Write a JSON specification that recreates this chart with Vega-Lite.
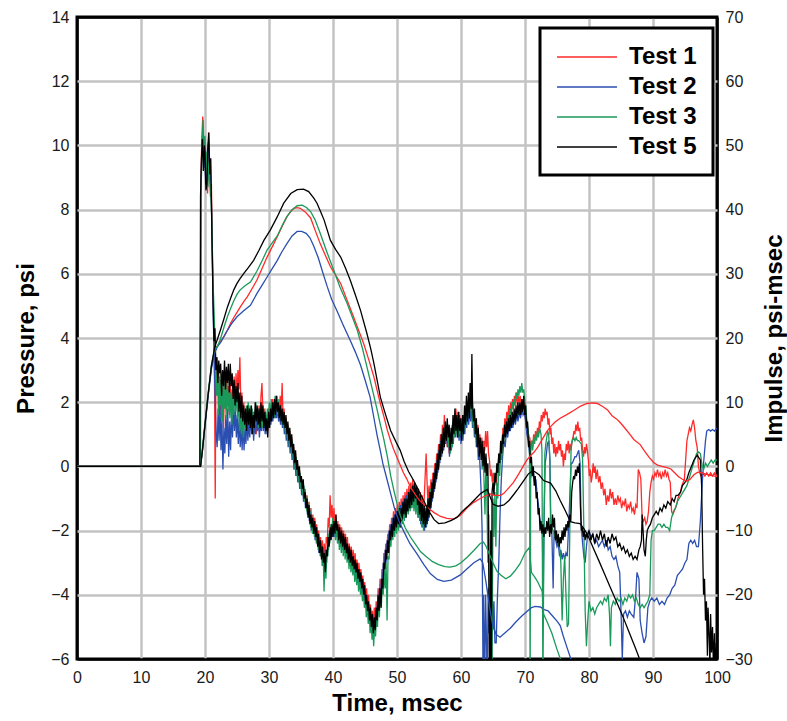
{
  "$schema": "https://vega.github.io/schema/vega-lite/v6.json",
  "width": 640,
  "height": 642,
  "autosize": {"type": "none"},
  "padding": {"left": 77, "top": 17, "right": 70, "bottom": 62},
  "background": "white",
  "config": {
    "font": "Liberation Sans",
    "view": {"stroke": "black", "strokeWidth": 3},
    "axis": {
      "labelFont": "Liberation Sans",
      "labelFontSize": 16,
      "labelColor": "#1a1a1a",
      "titleFont": "Liberation Sans",
      "titleFontSize": 24,
      "titleFontWeight": "bold",
      "titleColor": "black",
      "ticks": false,
      "tickSize": 0,
      "domain": false,
      "gridColor": "#c3c3c3",
      "gridWidth": 2.5,
      "labelPadding": 8,
      "labelFlush": false
    }
  },
  "datasets": {
    "p1": [{"t":0,"p":0},{"t":19.25,"p":0},{"t":19.35,"p":8.8},{"t":19.5,"p":10.2},{"t":19.65,"p":10.9},{"t":19.8,"p":9.5},{"t":19.95,"p":10.1},{"t":20.1,"p":9},{"t":20.25,"p":9.6},{"t":20.4,"p":8.5},{"t":20.55,"p":10.4},{"t":20.7,"p":9.4},{"t":20.85,"p":8.4},{"t":21,"p":8.8},{"t":21.15,"p":6.8},{"t":21.3,"p":5},{"t":21.45,"p":3.8},{"t":21.6,"p":-1},{"t":21.7,"p":2.8},{"t":21.85,"p":3.4},{"t":22,"p":2.2},{"t":22.15,"p":3},{"t":22.3,"p":1.6},{"t":22.45,"p":2.7},{"t":22.6,"p":1.5},{"t":22.75,"p":2.4},{"t":22.9,"p":1.2},{"t":23.05,"p":2.6},{"t":23.2,"p":1.8},{"t":23.35,"p":2.9},{"t":23.5,"p":1.9},{"t":23.65,"p":2.5},{"t":23.8,"p":1.6},{"t":23.95,"p":2.6},{"t":24.1,"p":1.8},{"t":24.25,"p":2.4},{"t":24.4,"p":1.7},{"t":24.55,"p":2.8},{"t":24.7,"p":2},{"t":24.85,"p":2.9},{"t":25,"p":2.2},{"t":25.15,"p":3},{"t":25.3,"p":2.4},{"t":25.45,"p":3.4},{"t":25.6,"p":1.9},{"t":25.75,"p":2.3},{"t":25.9,"p":1.4},{"t":26.05,"p":2},{"t":26.2,"p":1.3},{"t":26.35,"p":1.7},{"t":26.5,"p":1},{"t":26.65,"p":1.6},{"t":26.8,"p":1.1},{"t":26.95,"p":1.7},{"t":27.1,"p":1.2},{"t":27.25,"p":1.8},{"t":27.4,"p":1.1},{"t":27.55,"p":1.7},{"t":27.7,"p":1.3},{"t":27.85,"p":1.6},{"t":28,"p":1},{"t":28.15,"p":1.7},{"t":28.3,"p":1.2},{"t":28.45,"p":1.9},{"t":28.6,"p":1.4},{"t":28.75,"p":2.2},{"t":28.9,"p":2.6},{"t":29.05,"p":1.7},{"t":29.2,"p":1.4},{"t":29.35,"p":1.8},{"t":29.5,"p":1.2},{"t":29.65,"p":1.6},{"t":29.8,"p":1.1},{"t":29.95,"p":1.8},{"t":30.1,"p":1.3},{"t":30.25,"p":1.9},{"t":30.4,"p":1.5},{"t":30.55,"p":2.1},{"t":30.7,"p":1.6},{"t":30.85,"p":2},{"t":31,"p":1.5},{"t":31.15,"p":2.1},{"t":31.3,"p":1.6},{"t":31.45,"p":1.9},{"t":31.6,"p":1.4},{"t":31.75,"p":2.2},{"t":31.9,"p":1.7},{"t":32.05,"p":2.6},{"t":32.2,"p":1.5},{"t":32.35,"p":1.8},{"t":32.5,"p":1.1},{"t":32.65,"p":1.5},{"t":32.8,"p":0.9},{"t":32.95,"p":1.3},{"t":33.1,"p":0.7},{"t":33.25,"p":1.1},{"t":33.4,"p":0.6},{"t":33.55,"p":0.9},{"t":33.7,"p":0.3},{"t":33.85,"p":0.6},{"t":34,"p":0},{"t":34.15,"p":0.4},{"t":34.3,"p":-0.3},{"t":34.45,"p":0.1},{"t":34.6,"p":-0.4},{"t":34.75,"p":-0.1},{"t":34.9,"p":-0.6},{"t":35.05,"p":-0.3},{"t":35.2,"p":-0.9},{"t":35.35,"p":-0.5},{"t":35.5,"p":-1.1},{"t":35.65,"p":-0.7},{"t":35.8,"p":-1.2},{"t":35.95,"p":-0.9},{"t":36.1,"p":-1.5},{"t":36.25,"p":-1.1},{"t":36.4,"p":-1.7},{"t":36.55,"p":-1.3},{"t":36.7,"p":-1.9},{"t":36.85,"p":-1.5},{"t":37,"p":-2},{"t":37.15,"p":-1.6},{"t":37.3,"p":-2.3},{"t":37.45,"p":-1.8},{"t":37.6,"p":-2.4},{"t":37.75,"p":-2},{"t":37.9,"p":-2.6},{"t":38.05,"p":-2.2},{"t":38.2,"p":-2.8},{"t":38.35,"p":-2.3},{"t":38.5,"p":-2.9},{"t":38.65,"p":-2.4},{"t":38.8,"p":-3},{"t":38.95,"p":-2.2},{"t":39.1,"p":-2.4},{"t":39.25,"p":-1.6},{"t":39.4,"p":-1.9},{"t":39.55,"p":-0.9},{"t":39.7,"p":-1.6},{"t":39.85,"p":-1.2},{"t":40,"p":-1.8},{"t":40.15,"p":-1.3},{"t":40.3,"p":-1.9},{"t":40.45,"p":-1.5},{"t":40.6,"p":-2.1},{"t":40.75,"p":-1.7},{"t":40.9,"p":-2.2},{"t":41.05,"p":-1.8},{"t":41.2,"p":-2.3},{"t":41.35,"p":-1.9},{"t":41.5,"p":-2.4},{"t":41.65,"p":-2},{"t":41.8,"p":-2.5},{"t":41.95,"p":-2.1},{"t":42.1,"p":-2.6},{"t":42.25,"p":-2.2},{"t":42.4,"p":-2.8},{"t":42.55,"p":-2.4},{"t":42.7,"p":-2.9},{"t":42.85,"p":-2.5},{"t":43,"p":-3},{"t":43.15,"p":-2.6},{"t":43.3,"p":-3.1},{"t":43.45,"p":-2.7},{"t":43.6,"p":-3.2},{"t":43.75,"p":-2.9},{"t":43.9,"p":-3.4},{"t":44.05,"p":-3},{"t":44.2,"p":-3.5},{"t":44.35,"p":-3.2},{"t":44.5,"p":-3.7},{"t":44.65,"p":-3.4},{"t":44.8,"p":-3.9},{"t":44.95,"p":-3.6},{"t":45.1,"p":-4.1},{"t":45.25,"p":-3.8},{"t":45.4,"p":-4.4},{"t":45.55,"p":-4},{"t":45.7,"p":-4.6},{"t":45.85,"p":-4.3},{"t":46,"p":-4.9},{"t":46.15,"p":-4.5},{"t":46.3,"p":-5},{"t":46.45,"p":-4.4},{"t":46.6,"p":-4.9},{"t":46.75,"p":-4.2},{"t":46.9,"p":-4.7},{"t":47.05,"p":-3.8},{"t":47.2,"p":-4.3},{"t":47.35,"p":-3.5},{"t":47.5,"p":-4},{"t":47.65,"p":-3.2},{"t":47.8,"p":-3.5},{"t":47.95,"p":-2.7},{"t":48.1,"p":-3},{"t":48.25,"p":-2.4},{"t":48.4,"p":-2.7},{"t":48.55,"p":-2.1},{"t":48.7,"p":-2.5},{"t":48.85,"p":-1.8},{"t":49,"p":-2.2},{"t":49.15,"p":-1.6},{"t":49.3,"p":-2},{"t":49.45,"p":-1.4},{"t":49.6,"p":-1.9},{"t":49.75,"p":-1.3},{"t":49.9,"p":-1.8},{"t":50.05,"p":-1.2},{"t":50.2,"p":-1.7},{"t":50.35,"p":-1.1},{"t":50.5,"p":-1.6},{"t":50.65,"p":-1},{"t":50.8,"p":-1.5},{"t":50.95,"p":-0.9},{"t":51.1,"p":-1.4},{"t":51.25,"p":-0.8},{"t":51.4,"p":-1.3},{"t":51.55,"p":-0.7},{"t":51.7,"p":-1.2},{"t":51.85,"p":-0.6},{"t":52,"p":-1.1},{"t":52.15,"p":-0.5},{"t":52.3,"p":-1},{"t":52.45,"p":-0.4},{"t":52.6,"p":-0.9},{"t":52.75,"p":-0.5},{"t":52.9,"p":-1.1},{"t":53.05,"p":-0.6},{"t":53.2,"p":-1.2},{"t":53.35,"p":-0.7},{"t":53.5,"p":-1.3},{"t":53.65,"p":-0.8},{"t":53.8,"p":-1.4},{"t":53.95,"p":-0.9},{"t":54.1,"p":-1.5},{"t":54.25,"p":-1},{"t":54.4,"p":-0.3},{"t":54.55,"p":0.4},{"t":54.7,"p":-0.5},{"t":54.85,"p":-1.2},{"t":55,"p":-0.6},{"t":55.15,"p":-1.1},{"t":55.3,"p":-0.4},{"t":55.45,"p":-0.9},{"t":55.6,"p":-0.2},{"t":55.75,"p":-0.6},{"t":55.9,"p":0.1},{"t":56.05,"p":-0.3},{"t":56.2,"p":0.4},{"t":56.35,"p":0},{"t":56.5,"p":0.7},{"t":56.65,"p":0.3},{"t":56.8,"p":1},{"t":56.95,"p":0.5},{"t":57.1,"p":1.3},{"t":57.25,"p":0.8},{"t":57.4,"p":1.6},{"t":57.55,"p":1},{"t":57.7,"p":1.2},{"t":57.85,"p":0.6},{"t":58,"p":1.2},{"t":58.15,"p":0.4},{"t":58.3,"p":1},{"t":58.45,"p":0.6},{"t":58.6,"p":1.3},{"t":58.75,"p":0.8},{"t":58.9,"p":1.6},{"t":59.05,"p":1.1},{"t":59.2,"p":1.8},{"t":59.35,"p":1.2},{"t":59.5,"p":1.7},{"t":59.65,"p":1},{"t":59.8,"p":1.6},{"t":59.95,"p":1.1},{"t":60.1,"p":1.5},{"t":60.25,"p":0.9},{"t":60.4,"p":1.6},{"t":60.55,"p":1.2},{"t":60.7,"p":1.9},{"t":60.85,"p":1.3},{"t":61,"p":2},{"t":61.15,"p":1.5},{"t":61.3,"p":2.2},{"t":61.45,"p":2.6},{"t":61.6,"p":1.6},{"t":61.75,"p":2.1},{"t":61.9,"p":1.3},{"t":62.05,"p":1.7},{"t":62.2,"p":1},{"t":62.35,"p":1.5},{"t":62.5,"p":0.8},{"t":62.65,"p":1.3},{"t":62.8,"p":0.6},{"t":62.95,"p":1},{"t":63.1,"p":0.4},{"t":63.25,"p":0.9},{"t":63.4,"p":0.3},{"t":63.55,"p":0.8},{"t":63.7,"p":0.5},{"t":63.85,"p":1.1},{"t":64,"p":0.6},{"t":64.15,"p":1.1},{"t":64.3,"p":0.4},{"t":64.45,"p":0.2},{"t":64.6,"p":-0.3},{"t":64.75,"p":-0.1},{"t":64.9,"p":-0.5},{"t":65.05,"p":-0.2},{"t":65.2,"p":-0.6},{"t":65.35,"p":-0.3},{"t":65.5,"p":-0.6},{"t":65.65,"p":-0.2},{"t":65.8,"p":0.1},{"t":65.95,"p":0.4},{"t":66.1,"p":0.1},{"t":66.25,"p":0.7},{"t":66.4,"p":0.5},{"t":66.55,"p":1.2},{"t":66.7,"p":0.9},{"t":66.85,"p":1.5},{"t":67,"p":1.2},{"t":67.15,"p":1.7},{"t":67.3,"p":1.4},{"t":67.45,"p":1.9},{"t":67.6,"p":1.5},{"t":67.75,"p":2},{"t":67.9,"p":1.7},{"t":68.05,"p":2.1},{"t":68.2,"p":1.8},{"t":68.35,"p":2.2},{"t":68.5,"p":2},{"t":68.65,"p":2.3},{"t":68.8,"p":1.9},{"t":68.95,"p":2.2},{"t":69.1,"p":2},{"t":69.25,"p":2.2},{"t":69.4,"p":1.9},{"t":69.55,"p":2.1},{"t":69.7,"p":1.8},{"t":69.85,"p":2},{"t":70,"p":1.6},{"t":70.15,"p":1.4},{"t":70.3,"p":1},{"t":70.45,"p":1.2},{"t":70.6,"p":0.7},{"t":70.75,"p":0.9},{"t":70.9,"p":0.5},{"t":71.05,"p":0.8},{"t":71.2,"p":0.6},{"t":71.35,"p":1},{"t":71.5,"p":0.8},{"t":71.65,"p":1.1},{"t":71.8,"p":0.9},{"t":71.95,"p":1.2},{"t":72.1,"p":1},{"t":72.25,"p":1.4},{"t":72.4,"p":1.2},{"t":72.55,"p":1.6},{"t":72.7,"p":1.4},{"t":72.85,"p":1.7},{"t":73,"p":1.5},{"t":73.15,"p":1.8},{"t":73.3,"p":1.6},{"t":73.45,"p":1.7},{"t":73.6,"p":1.3},{"t":73.75,"p":1.5},{"t":73.9,"p":1},{"t":74.05,"p":1.2},{"t":74.2,"p":0.7},{"t":74.35,"p":0.9},{"t":74.5,"p":0.4},{"t":74.65,"p":0.7},{"t":74.8,"p":0.3},{"t":74.95,"p":0.6},{"t":75.1,"p":0.4},{"t":75.25,"p":0.8},{"t":75.4,"p":0.5},{"t":75.55,"p":0.7},{"t":75.7,"p":0.3},{"t":75.85,"p":0.5},{"t":76,"p":0},{"t":76.15,"p":0.4},{"t":76.3,"p":0.2},{"t":76.45,"p":0.7},{"t":76.6,"p":0.5},{"t":76.75,"p":0.8},{"t":76.9,"p":0.4},{"t":77.05,"p":0.7},{"t":77.2,"p":0.5},{"t":77.35,"p":0.8},{"t":77.5,"p":0.9},{"t":77.65,"p":1.1},{"t":77.8,"p":1},{"t":77.95,"p":1.3},{"t":78.1,"p":1.1},{"t":78.25,"p":1.4},{"t":78.4,"p":1.1},{"t":78.55,"p":1.2},{"t":78.7,"p":0.8},{"t":78.85,"p":0.9},{"t":79,"p":0.5},{"t":79.15,"p":0.3},{"t":79.3,"p":0.6},{"t":79.45,"p":0.4},{"t":79.6,"p":0.7},{"t":79.75,"p":0.5},{"t":79.9,"p":0.2},{"t":80.05,"p":-0.3},{"t":80.2,"p":-0.1},{"t":80.35,"p":-0.5},{"t":80.5,"p":-0.3},{"t":80.65,"p":0.1},{"t":80.8,"p":-0.2},{"t":80.95,"p":0},{"t":81.1,"p":-0.4},{"t":81.3,"p":-0.1},{"t":81.5,"p":-0.5},{"t":81.7,"p":-0.3},{"t":81.9,"p":-0.7},{"t":82.1,"p":-0.5},{"t":82.3,"p":-0.9},{"t":82.5,"p":-0.7},{"t":82.7,"p":-1.2},{"t":82.9,"p":-0.9},{"t":83.1,"p":-1.1},{"t":83.3,"p":-0.7},{"t":83.5,"p":-1},{"t":83.7,"p":-0.8},{"t":83.9,"p":-1.2},{"t":84.1,"p":-1},{"t":84.3,"p":-1.2},{"t":84.5,"p":-0.9},{"t":84.7,"p":-1.1},{"t":84.9,"p":-1},{"t":85.1,"p":-1.3},{"t":85.3,"p":-1.1},{"t":85.5,"p":-1.2},{"t":85.7,"p":-1},{"t":85.9,"p":-1.4},{"t":86.1,"p":-1.2},{"t":86.3,"p":-1.3},{"t":86.5,"p":-1.1},{"t":86.7,"p":-1.4},{"t":86.9,"p":-1.3},{"t":87.1,"p":-1.5},{"t":87.3,"p":-1.2},{"t":87.5,"p":-1.3},{"t":87.7,"p":-0.1},{"t":87.9,"p":-0.2},{"t":88.1,"p":-0.4},{"t":88.3,"p":-1.6},{"t":88.5,"p":-1.7},{"t":88.7,"p":-1.6},{"t":88.9,"p":-1.8},{"t":89.1,"p":-1.7},{"t":89.3,"p":-1.4},{"t":89.5,"p":-0.8},{"t":89.7,"p":-0.5},{"t":89.9,"p":-0.3},{"t":90.1,"p":-0.4},{"t":90.3,"p":-0.2},{"t":90.5,"p":-0.3},{"t":90.7,"p":-0.1},{"t":90.9,"p":-0.3},{"t":91.1,"p":-0.2},{"t":91.3,"p":-0.4},{"t":91.5,"p":-0.2},{"t":91.7,"p":-0.3},{"t":91.9,"p":-0.1},{"t":92.1,"p":-0.3},{"t":92.3,"p":-0.2},{"t":92.5,"p":-0.4},{"t":92.7,"p":-0.5},{"t":92.9,"p":-1.4},{"t":93.1,"p":-1.5},{"t":93.3,"p":-1.4},{"t":93.5,"p":-1.3},{"t":93.7,"p":-1.2},{"t":93.9,"p":-1},{"t":94.1,"p":-0.9},{"t":94.3,"p":-0.8},{"t":94.5,"p":-0.6},{"t":94.7,"p":-0.5},{"t":94.9,"p":-0.4},{"t":95.1,"p":0.2},{"t":95.3,"p":0.8},{"t":95.5,"p":1},{"t":95.7,"p":1.2},{"t":95.9,"p":1.1},{"t":96.1,"p":1.3},{"t":96.3,"p":1.45},{"t":96.5,"p":1.2},{"t":96.7,"p":0.8},{"t":96.9,"p":0.6},{"t":97.1,"p":0},{"t":97.3,"p":-0.2},{"t":97.5,"p":-0.3},{"t":97.8,"p":-0.2},{"t":98.1,"p":-0.3},{"t":98.4,"p":-0.2},{"t":98.7,"p":-0.3},{"t":99,"p":-0.2},{"t":99.3,"p":-0.3},{"t":99.6,"p":-0.2},{"t":100,"p":-0.3}],
    "p2": [{"t":0,"p":0},{"t":19.25,"p":0},{"t":19.35,"p":8.5},{"t":19.5,"p":9.8},{"t":19.65,"p":10.4},{"t":19.8,"p":9.3},{"t":19.95,"p":9.9},{"t":20.1,"p":8.8},{"t":20.25,"p":9.4},{"t":20.4,"p":9.9},{"t":20.55,"p":10.1},{"t":20.7,"p":8.9},{"t":20.85,"p":9.4},{"t":21,"p":8.2},{"t":21.15,"p":6.5},{"t":21.3,"p":4.6},{"t":21.45,"p":3.2},{"t":21.6,"p":2},{"t":21.75,"p":1},{"t":21.9,"p":0.6},{"t":22.05,"p":1.8},{"t":22.2,"p":0.8},{"t":22.35,"p":1.9},{"t":22.5,"p":0.5},{"t":22.65,"p":1.5},{"t":22.8,"p":-0.1},{"t":22.95,"p":1.2},{"t":23.1,"p":0.4},{"t":23.25,"p":1.6},{"t":23.4,"p":0.7},{"t":23.55,"p":1.8},{"t":23.7,"p":0.3},{"t":23.85,"p":1.4},{"t":24,"p":0.5},{"t":24.15,"p":1.7},{"t":24.3,"p":0.9},{"t":24.45,"p":2},{"t":24.6,"p":1.1},{"t":24.75,"p":1.8},{"t":24.9,"p":0.9},{"t":25.05,"p":1.6},{"t":25.2,"p":0.7},{"t":25.35,"p":1.5},{"t":25.5,"p":0.6},{"t":25.65,"p":1.3},{"t":25.8,"p":0.5},{"t":25.95,"p":1.4},{"t":26.1,"p":0.5},{"t":26.25,"p":1.2},{"t":26.4,"p":0.7},{"t":26.55,"p":1.5},{"t":26.7,"p":0.8},{"t":26.85,"p":1.4},{"t":27,"p":0.9},{"t":27.15,"p":1.6},{"t":27.3,"p":1},{"t":27.45,"p":1.5},{"t":27.6,"p":0.8},{"t":27.75,"p":1.4},{"t":27.9,"p":1},{"t":28.05,"p":1.6},{"t":28.2,"p":1.1},{"t":28.35,"p":1.5},{"t":28.5,"p":0.9},{"t":28.65,"p":1.4},{"t":28.8,"p":1.1},{"t":28.95,"p":1.7},{"t":29.1,"p":1.1},{"t":29.25,"p":1.5},{"t":29.4,"p":1},{"t":29.55,"p":1.4},{"t":29.7,"p":1},{"t":29.85,"p":1.6},{"t":30,"p":1.2},{"t":30.15,"p":1.7},{"t":30.3,"p":1.3},{"t":30.45,"p":1.9},{"t":30.6,"p":1.4},{"t":30.75,"p":1.9},{"t":30.9,"p":1.5},{"t":31.05,"p":2},{"t":31.2,"p":1.5},{"t":31.35,"p":1.9},{"t":31.5,"p":1.4},{"t":31.65,"p":1.8},{"t":31.8,"p":1.3},{"t":31.95,"p":1.7},{"t":32.1,"p":1.2},{"t":32.25,"p":1.6},{"t":32.4,"p":1},{"t":32.55,"p":1.4},{"t":32.7,"p":0.8},{"t":32.85,"p":1.2},{"t":33,"p":0.6},{"t":33.15,"p":1},{"t":33.3,"p":0.4},{"t":33.45,"p":0.8},{"t":33.6,"p":0.2},{"t":33.75,"p":0.5},{"t":33.9,"p":-0.1},{"t":34.05,"p":0.3},{"t":34.2,"p":-0.3},{"t":34.35,"p":0},{"t":34.5,"p":-0.5},{"t":34.65,"p":-0.2},{"t":34.8,"p":-0.7},{"t":34.95,"p":-0.4},{"t":35.1,"p":-0.9},{"t":35.25,"p":-0.6},{"t":35.4,"p":-1.1},{"t":35.55,"p":-0.8},{"t":35.7,"p":-1.3},{"t":35.85,"p":-1},{"t":36,"p":-1.5},{"t":36.15,"p":-1.2},{"t":36.3,"p":-1.7},{"t":36.45,"p":-1.4},{"t":36.6,"p":-2},{"t":36.75,"p":-1.6},{"t":36.9,"p":-2.1},{"t":37.05,"p":-1.8},{"t":37.2,"p":-2.3},{"t":37.35,"p":-1.9},{"t":37.5,"p":-2.4},{"t":37.65,"p":-2.1},{"t":37.8,"p":-2.7},{"t":37.95,"p":-2.3},{"t":38.1,"p":-2.8},{"t":38.25,"p":-2.5},{"t":38.4,"p":-3},{"t":38.55,"p":-2.6},{"t":38.7,"p":-3.2},{"t":38.85,"p":-2.8},{"t":39,"p":-3},{"t":39.15,"p":-2.5},{"t":39.3,"p":-2.6},{"t":39.45,"p":-2},{"t":39.6,"p":-2.3},{"t":39.75,"p":-1.8},{"t":39.9,"p":-2.2},{"t":40.05,"p":-1.7},{"t":40.2,"p":-2.2},{"t":40.35,"p":-1.8},{"t":40.5,"p":-2.2},{"t":40.65,"p":-1.9},{"t":40.8,"p":-2.4},{"t":40.95,"p":-2},{"t":41.1,"p":-2.5},{"t":41.25,"p":-2.1},{"t":41.4,"p":-2.6},{"t":41.55,"p":-2.2},{"t":41.7,"p":-2.7},{"t":41.85,"p":-2.3},{"t":42,"p":-2.8},{"t":42.15,"p":-2.4},{"t":42.3,"p":-2.9},{"t":42.45,"p":-2.6},{"t":42.6,"p":-3.1},{"t":42.75,"p":-2.7},{"t":42.9,"p":-3.2},{"t":43.05,"p":-2.8},{"t":43.2,"p":-3.3},{"t":43.35,"p":-3},{"t":43.5,"p":-3.5},{"t":43.65,"p":-3.1},{"t":43.8,"p":-3.6},{"t":43.95,"p":-3.3},{"t":44.1,"p":-3.8},{"t":44.25,"p":-3.4},{"t":44.4,"p":-3.9},{"t":44.55,"p":-3.6},{"t":44.7,"p":-4.1},{"t":44.85,"p":-3.8},{"t":45,"p":-4.4},{"t":45.15,"p":-4},{"t":45.3,"p":-4.6},{"t":45.45,"p":-4.2},{"t":45.6,"p":-4.9},{"t":45.75,"p":-4.5},{"t":45.9,"p":-5.1},{"t":46.05,"p":-4.7},{"t":46.2,"p":-5.2},{"t":46.35,"p":-4.8},{"t":46.5,"p":-5.2},{"t":46.65,"p":-4.6},{"t":46.8,"p":-5},{"t":46.95,"p":-4.2},{"t":47.1,"p":-4.6},{"t":47.25,"p":-3.8},{"t":47.4,"p":-4.3},{"t":47.55,"p":-3.5},{"t":47.7,"p":-3.8},{"t":47.85,"p":-3},{"t":48,"p":-3.3},{"t":48.15,"p":-2.6},{"t":48.3,"p":-3},{"t":48.45,"p":-2.3},{"t":48.6,"p":-2.7},{"t":48.75,"p":-2},{"t":48.9,"p":-2.4},{"t":49.05,"p":-1.8},{"t":49.2,"p":-2.2},{"t":49.35,"p":-1.6},{"t":49.5,"p":-2.1},{"t":49.65,"p":-1.5},{"t":49.8,"p":-2},{"t":49.95,"p":-1.4},{"t":50.1,"p":-1.9},{"t":50.25,"p":-1.3},{"t":50.4,"p":-1.8},{"t":50.55,"p":-1.2},{"t":50.7,"p":-1.7},{"t":50.85,"p":-1.1},{"t":51,"p":-1.6},{"t":51.15,"p":-1},{"t":51.3,"p":-1.5},{"t":51.45,"p":-0.9},{"t":51.6,"p":-1.4},{"t":51.75,"p":-0.8},{"t":51.9,"p":-1.3},{"t":52.05,"p":-0.8},{"t":52.2,"p":-1.3},{"t":52.35,"p":-0.7},{"t":52.5,"p":-1.2},{"t":52.65,"p":-0.7},{"t":52.8,"p":-1.3},{"t":52.95,"p":-0.8},{"t":53.1,"p":-1.4},{"t":53.25,"p":-0.9},{"t":53.4,"p":-1.6},{"t":53.55,"p":-1},{"t":53.7,"p":-1.8},{"t":53.85,"p":-1.2},{"t":54,"p":-1.9},{"t":54.15,"p":-1.3},{"t":54.3,"p":-2},{"t":54.45,"p":-1.4},{"t":54.6,"p":-1.9},{"t":54.75,"p":-1.2},{"t":54.9,"p":-1.7},{"t":55.05,"p":-1},{"t":55.2,"p":-1.4},{"t":55.35,"p":-0.7},{"t":55.5,"p":-1.1},{"t":55.65,"p":-0.4},{"t":55.8,"p":-0.8},{"t":55.95,"p":-0.1},{"t":56.1,"p":-0.5},{"t":56.25,"p":0.2},{"t":56.4,"p":-0.2},{"t":56.55,"p":0.5},{"t":56.7,"p":0.1},{"t":56.85,"p":0.8},{"t":57,"p":0.3},{"t":57.15,"p":1},{"t":57.3,"p":0.5},{"t":57.45,"p":1.2},{"t":57.6,"p":0.7},{"t":57.75,"p":1.3},{"t":57.9,"p":0.6},{"t":58.05,"p":1.1},{"t":58.2,"p":0.3},{"t":58.35,"p":0.9},{"t":58.5,"p":0.5},{"t":58.65,"p":1.2},{"t":58.8,"p":0.7},{"t":58.95,"p":1.4},{"t":59.1,"p":0.9},{"t":59.25,"p":1.5},{"t":59.4,"p":0.9},{"t":59.55,"p":1.4},{"t":59.7,"p":0.8},{"t":59.85,"p":1.3},{"t":60,"p":0.7},{"t":60.15,"p":1.3},{"t":60.3,"p":0.8},{"t":60.45,"p":1.5},{"t":60.6,"p":1},{"t":60.75,"p":1.7},{"t":60.9,"p":1.2},{"t":61.05,"p":1.8},{"t":61.2,"p":1.3},{"t":61.35,"p":1.8},{"t":61.5,"p":1.4},{"t":61.65,"p":1.9},{"t":61.8,"p":1.2},{"t":61.95,"p":1.6},{"t":62.1,"p":0.9},{"t":62.25,"p":1.3},{"t":62.4,"p":0.6},{"t":62.55,"p":1},{"t":62.7,"p":0.2},{"t":62.85,"p":0.5},{"t":63,"p":-0.1},{"t":63.15,"p":-0.8},{"t":63.3,"p":-2},{"t":63.45,"p":-7},{"t":63.55,"p":-4},{"t":63.7,"p":-7},{"t":63.85,"p":-4},{"t":64,"p":-5.6},{"t":64.1,"p":-7},{"t":64.25,"p":-3.8},{"t":64.4,"p":-5.2},{"t":64.55,"p":-3.6},{"t":64.7,"p":-7},{"t":64.85,"p":-3.6},{"t":65,"p":-5.1},{"t":65.15,"p":-4.2},{"t":65.3,"p":-5.5},{"t":65.5,"p":-5.5},{"t":65.7,"p":-4},{"t":65.9,"p":-3},{"t":66.1,"p":-1.5},{"t":66.3,"p":-0.4},{"t":66.5,"p":0.3},{"t":66.7,"p":0.8},{"t":66.9,"p":0.6},{"t":67.1,"p":1.1},{"t":67.3,"p":0.9},{"t":67.5,"p":1.3},{"t":67.7,"p":1.1},{"t":67.9,"p":1.4},{"t":68.1,"p":1.2},{"t":68.3,"p":1.5},{"t":68.5,"p":1.3},{"t":68.7,"p":1.6},{"t":68.9,"p":1.4},{"t":69.1,"p":1.7},{"t":69.3,"p":1.5},{"t":69.5,"p":1.8},{"t":69.7,"p":1.6},{"t":69.9,"p":1.7},{"t":70.1,"p":1.4},{"t":70.3,"p":1},{"t":70.5,"p":0.8},{"t":70.7,"p":0.4},{"t":70.9,"p":0},{"t":71.1,"p":-0.3},{"t":71.3,"p":-0.2},{"t":71.5,"p":-0.5},{"t":71.7,"p":-0.4},{"t":71.9,"p":-0.9},{"t":72.1,"p":-1.2},{"t":72.3,"p":-1.6},{"t":72.5,"p":-1.8},{"t":72.7,"p":-2},{"t":72.85,"p":-4},{"t":73,"p":-1.5},{"t":73.15,"p":0.1},{"t":73.3,"p":0.3},{"t":73.5,"p":0.7},{"t":73.7,"p":0.8},{"t":73.9,"p":0.2},{"t":74.05,"p":-2},{"t":74.2,"p":-2.1},{"t":74.4,"p":-3.8},{"t":74.55,"p":-2},{"t":74.8,"p":-2.3},{"t":75,"p":-2.5},{"t":75.2,"p":-2.4},{"t":75.4,"p":-2.8},{"t":75.6,"p":-2.6},{"t":75.8,"p":-2.9},{"t":76,"p":-2.7},{"t":76.2,"p":-2.9},{"t":76.4,"p":-2.7},{"t":76.6,"p":-2.8},{"t":76.9,"p":-1.5},{"t":77.2,"p":0.1},{"t":77.4,"p":0.1},{"t":77.6,"p":0.2},{"t":77.8,"p":0.3},{"t":78,"p":0.3},{"t":78.2,"p":0.4},{"t":78.4,"p":0.5},{"t":78.6,"p":0.1},{"t":78.8,"p":-1.9},{"t":79,"p":-2.4},{"t":79.2,"p":-2.8},{"t":79.4,"p":-3},{"t":79.6,"p":-2.5},{"t":79.8,"p":-2.1},{"t":80,"p":-2},{"t":80.3,"p":-2.2},{"t":80.6,"p":-2.1},{"t":80.9,"p":-2.4},{"t":81.2,"p":-2.3},{"t":81.5,"p":-2.5},{"t":81.8,"p":-2.4},{"t":82.1,"p":-2.3},{"t":82.4,"p":-2.5},{"t":82.7,"p":-2.3},{"t":83,"p":-2.6},{"t":83.3,"p":-2.5},{"t":83.6,"p":-2.8},{"t":83.9,"p":-2.9},{"t":84.2,"p":-2.8},{"t":84.5,"p":-3.1},{"t":84.8,"p":-3.3},{"t":85,"p":-4.5},{"t":85.2,"p":-6},{"t":85.4,"p":-4.6},{"t":85.7,"p":-4.5},{"t":86,"p":-4.7},{"t":86.3,"p":-4.5},{"t":86.6,"p":-4.6},{"t":87,"p":-4.7},{"t":87.3,"p":-4},{"t":87.5,"p":-3.3},{"t":87.8,"p":-3.5},{"t":88,"p":-4.8},{"t":88.3,"p":-5.2},{"t":88.6,"p":-5.5},{"t":88.9,"p":-5.3},{"t":89.2,"p":-4.4},{"t":89.5,"p":-4.2},{"t":89.8,"p":-4.1},{"t":90.2,"p":-4.2},{"t":90.6,"p":-4.1},{"t":91,"p":-4.3},{"t":91.4,"p":-4.2},{"t":91.8,"p":-4.3},{"t":92.2,"p":-4.1},{"t":92.6,"p":-4},{"t":93,"p":-3.8},{"t":93.4,"p":-3.7},{"t":93.8,"p":-3.4},{"t":94.2,"p":-3.3},{"t":94.6,"p":-3.2},{"t":95,"p":-3},{"t":95.3,"p":-2.9},{"t":95.6,"p":-2.4},{"t":95.9,"p":-2.3},{"t":96.2,"p":-2.4},{"t":96.5,"p":-2.3},{"t":96.8,"p":-2.5},{"t":97.1,"p":-2.5},{"t":97.4,"p":-1.7},{"t":97.7,"p":-0.5},{"t":97.9,"p":0.1},{"t":98.2,"p":0.8},{"t":98.4,"p":1.1},{"t":98.7,"p":1.15},{"t":99,"p":1.1},{"t":99.3,"p":1.15},{"t":99.6,"p":1.1},{"t":100,"p":1.2}],
    "p3": [{"t":0,"p":0},{"t":19.3,"p":0},{"t":19.4,"p":8.7},{"t":19.55,"p":10},{"t":19.7,"p":10.8},{"t":19.85,"p":9.7},{"t":20,"p":10.3},{"t":20.15,"p":9.1},{"t":20.3,"p":9.8},{"t":20.45,"p":8.7},{"t":20.6,"p":9.5},{"t":20.75,"p":8.9},{"t":20.9,"p":8.5},{"t":21.05,"p":7.8},{"t":21.2,"p":6.1},{"t":21.35,"p":5.2},{"t":21.5,"p":4.3},{"t":21.65,"p":3.4},{"t":21.8,"p":2.2},{"t":21.95,"p":3},{"t":22.1,"p":1.6},{"t":22.25,"p":2.8},{"t":22.4,"p":1.9},{"t":22.55,"p":2.9},{"t":22.7,"p":1.4},{"t":22.85,"p":2.5},{"t":23,"p":1.8},{"t":23.15,"p":2.8},{"t":23.3,"p":1.5},{"t":23.45,"p":2.6},{"t":23.6,"p":1.7},{"t":23.75,"p":2.4},{"t":23.9,"p":1.5},{"t":24.05,"p":2.3},{"t":24.2,"p":1.3},{"t":24.35,"p":2.2},{"t":24.5,"p":1.6},{"t":24.65,"p":2.5},{"t":24.8,"p":1.7},{"t":24.95,"p":2.4},{"t":25.1,"p":1.5},{"t":25.25,"p":2.1},{"t":25.4,"p":1.1},{"t":25.55,"p":1.9},{"t":25.7,"p":1},{"t":25.85,"p":1.7},{"t":26,"p":0.9},{"t":26.15,"p":1.6},{"t":26.3,"p":1.2},{"t":26.45,"p":1.9},{"t":26.6,"p":1.3},{"t":26.75,"p":2},{"t":26.9,"p":1.4},{"t":27.05,"p":1.9},{"t":27.2,"p":1.2},{"t":27.35,"p":1.8},{"t":27.5,"p":1.1},{"t":27.65,"p":1.7},{"t":27.8,"p":1.3},{"t":27.95,"p":2},{"t":28.1,"p":1.4},{"t":28.25,"p":1.8},{"t":28.4,"p":1.2},{"t":28.55,"p":1.7},{"t":28.7,"p":1.3},{"t":28.85,"p":1.9},{"t":29,"p":1.2},{"t":29.15,"p":1.8},{"t":29.3,"p":1.3},{"t":29.45,"p":1.7},{"t":29.6,"p":1.2},{"t":29.75,"p":1.8},{"t":29.9,"p":1.4},{"t":30.05,"p":2},{"t":30.2,"p":1.5},{"t":30.35,"p":2.1},{"t":30.5,"p":1.6},{"t":30.65,"p":2},{"t":30.8,"p":1.5},{"t":30.95,"p":2.2},{"t":31.1,"p":1.7},{"t":31.25,"p":2.2},{"t":31.4,"p":1.6},{"t":31.55,"p":2.1},{"t":31.7,"p":1.5},{"t":31.85,"p":1.9},{"t":32,"p":1.3},{"t":32.15,"p":1.7},{"t":32.3,"p":1.2},{"t":32.45,"p":1.6},{"t":32.6,"p":1},{"t":32.75,"p":1.4},{"t":32.9,"p":0.8},{"t":33.05,"p":1.2},{"t":33.2,"p":0.6},{"t":33.35,"p":1},{"t":33.5,"p":0.4},{"t":33.65,"p":0.8},{"t":33.8,"p":0.2},{"t":33.95,"p":0.5},{"t":34.1,"p":-0.1},{"t":34.25,"p":0.3},{"t":34.4,"p":-0.3},{"t":34.55,"p":0},{"t":34.7,"p":-0.5},{"t":34.85,"p":-0.2},{"t":35,"p":-0.7},{"t":35.15,"p":-0.4},{"t":35.3,"p":-0.9},{"t":35.45,"p":-0.6},{"t":35.6,"p":-1.1},{"t":35.75,"p":-0.9},{"t":35.9,"p":-1.4},{"t":36.05,"p":-1.1},{"t":36.2,"p":-1.6},{"t":36.35,"p":-1.3},{"t":36.5,"p":-1.9},{"t":36.65,"p":-1.5},{"t":36.8,"p":-2.1},{"t":36.95,"p":-1.7},{"t":37.1,"p":-2.2},{"t":37.25,"p":-1.9},{"t":37.4,"p":-2.4},{"t":37.55,"p":-2},{"t":37.7,"p":-2.6},{"t":37.85,"p":-2.2},{"t":38,"p":-2.8},{"t":38.15,"p":-2.4},{"t":38.3,"p":-3.1},{"t":38.45,"p":-2.6},{"t":38.6,"p":-3.9},{"t":38.75,"p":-2.9},{"t":38.9,"p":-3.5},{"t":39.05,"p":-2.6},{"t":39.2,"p":-2.8},{"t":39.35,"p":-2.1},{"t":39.5,"p":-2.4},{"t":39.65,"p":-1.8},{"t":39.8,"p":-2.1},{"t":39.95,"p":-1.6},{"t":40.1,"p":-2.1},{"t":40.25,"p":-1.7},{"t":40.4,"p":-2.3},{"t":40.55,"p":-1.8},{"t":40.7,"p":-2.4},{"t":40.85,"p":-2},{"t":41,"p":-2.6},{"t":41.15,"p":-2.1},{"t":41.3,"p":-2.7},{"t":41.45,"p":-2.2},{"t":41.6,"p":-2.8},{"t":41.75,"p":-2.3},{"t":41.9,"p":-2.9},{"t":42.05,"p":-2.4},{"t":42.2,"p":-3},{"t":42.35,"p":-2.6},{"t":42.5,"p":-3.2},{"t":42.65,"p":-2.7},{"t":42.8,"p":-3.3},{"t":42.95,"p":-2.9},{"t":43.1,"p":-3.4},{"t":43.25,"p":-3},{"t":43.4,"p":-3.6},{"t":43.55,"p":-3.2},{"t":43.7,"p":-3.7},{"t":43.85,"p":-3.3},{"t":44,"p":-3.9},{"t":44.15,"p":-3.5},{"t":44.3,"p":-4},{"t":44.45,"p":-3.7},{"t":44.6,"p":-4.2},{"t":44.75,"p":-3.9},{"t":44.9,"p":-4.4},{"t":45.05,"p":-4.1},{"t":45.2,"p":-4.7},{"t":45.35,"p":-4.3},{"t":45.5,"p":-4.9},{"t":45.65,"p":-4.5},{"t":45.8,"p":-5.2},{"t":45.95,"p":-4.8},{"t":46.1,"p":-5.4},{"t":46.25,"p":-5},{"t":46.35,"p":-5.6},{"t":46.5,"p":-5},{"t":46.65,"p":-5.3},{"t":46.8,"p":-4.6},{"t":46.95,"p":-5},{"t":47.1,"p":-4.2},{"t":47.25,"p":-4.7},{"t":47.4,"p":-3.9},{"t":47.55,"p":-4.4},{"t":47.7,"p":-3.6},{"t":47.85,"p":-4},{"t":48,"p":-3.2},{"t":48.15,"p":-3.8},{"t":48.3,"p":-3},{"t":48.45,"p":-4.8},{"t":48.6,"p":-2.8},{"t":48.75,"p":-2.9},{"t":48.9,"p":-2.2},{"t":49.05,"p":-2.5},{"t":49.2,"p":-1.9},{"t":49.35,"p":-2.3},{"t":49.5,"p":-1.7},{"t":49.65,"p":-2.2},{"t":49.8,"p":-1.6},{"t":49.95,"p":-2.1},{"t":50.1,"p":-1.5},{"t":50.25,"p":-2},{"t":50.4,"p":-1.4},{"t":50.55,"p":-1.9},{"t":50.7,"p":-1.3},{"t":50.85,"p":-1.8},{"t":51,"p":-1.2},{"t":51.15,"p":-1.7},{"t":51.3,"p":-1.1},{"t":51.45,"p":-1.6},{"t":51.6,"p":-1},{"t":51.75,"p":-1.5},{"t":51.9,"p":-0.9},{"t":52.05,"p":-1.4},{"t":52.2,"p":-0.8},{"t":52.35,"p":-1.3},{"t":52.5,"p":-0.8},{"t":52.65,"p":-1.4},{"t":52.8,"p":-0.9},{"t":52.95,"p":-1.5},{"t":53.1,"p":-1},{"t":53.25,"p":-1.6},{"t":53.4,"p":-1.1},{"t":53.55,"p":-1.7},{"t":53.7,"p":-1.2},{"t":53.85,"p":-1.9},{"t":54,"p":-1.3},{"t":54.15,"p":-2},{"t":54.3,"p":-1.4},{"t":54.45,"p":-1.9},{"t":54.6,"p":-1.2},{"t":54.75,"p":-1.7},{"t":54.9,"p":-1},{"t":55.05,"p":-1.5},{"t":55.2,"p":-0.7},{"t":55.35,"p":-1.2},{"t":55.5,"p":-0.5},{"t":55.65,"p":-0.9},{"t":55.8,"p":-0.2},{"t":55.95,"p":-0.6},{"t":56.1,"p":0.1},{"t":56.25,"p":-0.3},{"t":56.4,"p":0.4},{"t":56.55,"p":0},{"t":56.7,"p":0.7},{"t":56.85,"p":0.3},{"t":57,"p":1},{"t":57.15,"p":0.5},{"t":57.3,"p":1.2},{"t":57.45,"p":0.7},{"t":57.6,"p":1.4},{"t":57.75,"p":0.9},{"t":57.9,"p":1.2},{"t":58.05,"p":0.6},{"t":58.2,"p":1.1},{"t":58.35,"p":0.4},{"t":58.5,"p":1},{"t":58.65,"p":0.6},{"t":58.8,"p":1.4},{"t":58.95,"p":0.9},{"t":59.1,"p":1.6},{"t":59.25,"p":1},{"t":59.4,"p":1.5},{"t":59.55,"p":0.9},{"t":59.7,"p":1.6},{"t":59.85,"p":1},{"t":60,"p":1.4},{"t":60.15,"p":0.9},{"t":60.3,"p":1.6},{"t":60.45,"p":1.1},{"t":60.6,"p":1.8},{"t":60.75,"p":1.3},{"t":60.9,"p":2},{"t":61.05,"p":1.5},{"t":61.2,"p":2.1},{"t":61.35,"p":1.6},{"t":61.5,"p":2},{"t":61.65,"p":2.4},{"t":61.8,"p":1.5},{"t":61.95,"p":1.2},{"t":62.1,"p":1.6},{"t":62.25,"p":0.9},{"t":62.4,"p":1.3},{"t":62.55,"p":0.7},{"t":62.7,"p":1},{"t":62.85,"p":0.9},{"t":63,"p":0.5},{"t":63.15,"p":0.8},{"t":63.3,"p":-0.1},{"t":63.45,"p":0.6},{"t":63.6,"p":-0.5},{"t":63.75,"p":-1.5},{"t":63.9,"p":0.2},{"t":64.05,"p":-1},{"t":64.2,"p":-3},{"t":64.35,"p":-1.5},{"t":64.55,"p":-6.5},{"t":64.7,"p":-2},{"t":64.85,"p":-6.5},{"t":65,"p":-1},{"t":65.15,"p":-2.2},{"t":65.3,"p":-0.8},{"t":65.45,"p":-2.5},{"t":65.6,"p":-0.5},{"t":65.75,"p":-1},{"t":65.9,"p":0.1},{"t":66.05,"p":-0.3},{"t":66.2,"p":0.5},{"t":66.35,"p":0.2},{"t":66.5,"p":0.9},{"t":66.65,"p":0.7},{"t":66.8,"p":1.2},{"t":66.95,"p":1},{"t":67.1,"p":1.4},{"t":67.25,"p":1.2},{"t":67.4,"p":1.6},{"t":67.55,"p":1.4},{"t":67.7,"p":1.8},{"t":67.85,"p":1.6},{"t":68,"p":2},{"t":68.15,"p":1.8},{"t":68.3,"p":2.1},{"t":68.45,"p":1.9},{"t":68.6,"p":2.3},{"t":68.75,"p":2.1},{"t":68.9,"p":2.4},{"t":69.05,"p":2.2},{"t":69.2,"p":2.5},{"t":69.35,"p":2.3},{"t":69.5,"p":2.6},{"t":69.65,"p":2.3},{"t":69.8,"p":2.4},{"t":69.95,"p":2.1},{"t":70.1,"p":1.9},{"t":70.25,"p":1.5},{"t":70.4,"p":1.3},{"t":70.55,"p":1},{"t":70.7,"p":0.9},{"t":70.8,"p":-7},{"t":70.9,"p":0.6},{"t":71.05,"p":0.8},{"t":71.2,"p":0.5},{"t":71.35,"p":0.9},{"t":71.5,"p":0.7},{"t":71.65,"p":1},{"t":71.8,"p":0.8},{"t":71.95,"p":1.1},{"t":72.1,"p":0.9},{"t":72.3,"p":1.2},{"t":72.5,"p":1},{"t":72.65,"p":0.5},{"t":72.8,"p":-7},{"t":72.95,"p":-2.2},{"t":73.1,"p":0.4},{"t":73.25,"p":0.7},{"t":73.4,"p":0.9},{"t":73.55,"p":1.1},{"t":73.7,"p":1},{"t":73.85,"p":0.4},{"t":74,"p":-1.8},{"t":74.2,"p":-1.9},{"t":74.4,"p":-2},{"t":74.6,"p":-2.1},{"t":74.8,"p":-2.3},{"t":75,"p":-2.3},{"t":75.2,"p":-2.4},{"t":75.4,"p":-2.5},{"t":75.6,"p":-3},{"t":75.8,"p":-4.8},{"t":76,"p":-3.5},{"t":76.2,"p":-2.8},{"t":76.4,"p":-4},{"t":76.6,"p":-5},{"t":76.8,"p":-4.9},{"t":77,"p":-2},{"t":77.2,"p":0.6},{"t":77.4,"p":0.8},{"t":77.6,"p":0.9},{"t":77.8,"p":0.8},{"t":78,"p":0.9},{"t":78.2,"p":0.8},{"t":78.4,"p":0.8},{"t":78.6,"p":0.75},{"t":78.8,"p":0.7},{"t":79,"p":0.2},{"t":79.2,"p":-2},{"t":79.4,"p":-4.5},{"t":79.6,"p":-5.6},{"t":79.8,"p":-4.8},{"t":80,"p":-4.2},{"t":80.3,"p":-4.5},{"t":80.6,"p":-4.4},{"t":80.9,"p":-4.6},{"t":81.2,"p":-4.4},{"t":81.5,"p":-4.3},{"t":81.8,"p":-4.2},{"t":82.1,"p":-4.3},{"t":82.4,"p":-4.1},{"t":82.7,"p":-4.2},{"t":83,"p":-4},{"t":83.2,"p":-4.6},{"t":83.35,"p":-5.6},{"t":83.5,"p":-4.4},{"t":83.8,"p":-4.2},{"t":84.1,"p":-4.3},{"t":84.4,"p":-4.1},{"t":84.7,"p":-4.2},{"t":85,"p":-4.1},{"t":85.3,"p":-4.3},{"t":85.6,"p":-4.1},{"t":85.9,"p":-4.2},{"t":86.2,"p":-4},{"t":86.5,"p":-4.1},{"t":86.8,"p":-4},{"t":87.1,"p":-4.2},{"t":87.4,"p":-4.1},{"t":87.7,"p":-4.3},{"t":88,"p":-4.4},{"t":88.3,"p":-4.3},{"t":88.6,"p":-4.4},{"t":88.9,"p":-4.3},{"t":89.2,"p":-4.2},{"t":89.5,"p":-4},{"t":89.7,"p":-2.3},{"t":89.9,"p":-2},{"t":90.2,"p":-2},{"t":90.5,"p":-1.9},{"t":90.8,"p":-1.8},{"t":91.1,"p":-1.8},{"t":91.4,"p":-1.9},{"t":91.7,"p":-1.8},{"t":92,"p":-1.9},{"t":92.3,"p":-1.9},{"t":92.6,"p":-2},{"t":92.9,"p":-1.6},{"t":93.2,"p":-1.4},{"t":93.5,"p":-1.3},{"t":93.8,"p":-1.1},{"t":94.1,"p":-1},{"t":94.4,"p":-0.9},{"t":94.7,"p":-0.8},{"t":95,"p":-0.7},{"t":95.3,"p":-0.6},{"t":95.6,"p":-0.4},{"t":95.9,"p":-0.2},{"t":96.2,"p":0},{"t":96.5,"p":0.2},{"t":96.8,"p":0.4},{"t":97.1,"p":0.45},{"t":97.4,"p":0.4},{"t":97.7,"p":0},{"t":97.9,"p":-0.1},{"t":98.2,"p":0.1},{"t":98.5,"p":0},{"t":98.8,"p":0.1},{"t":99.1,"p":0.2},{"t":99.4,"p":0.1},{"t":99.7,"p":0.2},{"t":100,"p":0.2}],
    "p5": [{"t":0,"p":0},{"t":19.2,"p":0},{"t":19.3,"p":8.4},{"t":19.45,"p":9.6},{"t":19.6,"p":10.2},{"t":19.75,"p":9.2},{"t":19.9,"p":10},{"t":20,"p":9.8},{"t":20.15,"p":8.6},{"t":20.3,"p":8.8},{"t":20.45,"p":9.9},{"t":20.6,"p":10.4},{"t":20.75,"p":9.1},{"t":20.9,"p":9.6},{"t":21,"p":8.3},{"t":21.1,"p":7},{"t":21.25,"p":5.2},{"t":21.4,"p":3.9},{"t":21.55,"p":4.3},{"t":21.7,"p":3},{"t":21.85,"p":3.4},{"t":22,"p":2.6},{"t":22.15,"p":3.3},{"t":22.3,"p":2.9},{"t":22.45,"p":3.2},{"t":22.6,"p":2.2},{"t":22.75,"p":3},{"t":22.9,"p":2.5},{"t":23.05,"p":3.3},{"t":23.2,"p":2.4},{"t":23.35,"p":3.1},{"t":23.5,"p":2.6},{"t":23.65,"p":3.2},{"t":23.8,"p":2.3},{"t":23.95,"p":3.2},{"t":24.1,"p":2.5},{"t":24.25,"p":2.9},{"t":24.4,"p":2.1},{"t":24.55,"p":2.7},{"t":24.7,"p":1.9},{"t":24.85,"p":2.5},{"t":25,"p":2},{"t":25.15,"p":2.6},{"t":25.3,"p":1.7},{"t":25.45,"p":2.3},{"t":25.6,"p":1.5},{"t":25.75,"p":2.2},{"t":25.9,"p":1.4},{"t":26.05,"p":1.9},{"t":26.2,"p":1.3},{"t":26.35,"p":1.8},{"t":26.5,"p":1.1},{"t":26.65,"p":1.9},{"t":26.8,"p":1.3},{"t":26.95,"p":1.8},{"t":27.1,"p":1.2},{"t":27.25,"p":1.9},{"t":27.4,"p":1},{"t":27.55,"p":1.6},{"t":27.7,"p":1.2},{"t":27.85,"p":2},{"t":28,"p":1.4},{"t":28.15,"p":1.9},{"t":28.3,"p":1.3},{"t":28.45,"p":1.8},{"t":28.6,"p":1.2},{"t":28.75,"p":2},{"t":28.9,"p":1.4},{"t":29.05,"p":1.9},{"t":29.2,"p":1.2},{"t":29.35,"p":1.7},{"t":29.5,"p":1.1},{"t":29.65,"p":1.5},{"t":29.8,"p":0.9},{"t":29.95,"p":1.7},{"t":30.1,"p":1.2},{"t":30.25,"p":1.8},{"t":30.4,"p":1.4},{"t":30.55,"p":2},{"t":30.7,"p":1.5},{"t":30.85,"p":2.1},{"t":31,"p":1.6},{"t":31.15,"p":2.2},{"t":31.3,"p":1.7},{"t":31.45,"p":2},{"t":31.6,"p":1.5},{"t":31.75,"p":1.9},{"t":31.9,"p":1.4},{"t":32.05,"p":1.8},{"t":32.2,"p":1.3},{"t":32.35,"p":1.7},{"t":32.5,"p":1.2},{"t":32.65,"p":1.6},{"t":32.8,"p":1},{"t":32.95,"p":1.4},{"t":33.1,"p":0.8},{"t":33.25,"p":1.2},{"t":33.4,"p":0.6},{"t":33.55,"p":1},{"t":33.7,"p":0.4},{"t":33.85,"p":0.7},{"t":34,"p":0.1},{"t":34.15,"p":0.5},{"t":34.3,"p":-0.1},{"t":34.45,"p":0.2},{"t":34.6,"p":-0.3},{"t":34.75,"p":0},{"t":34.9,"p":-0.5},{"t":35.05,"p":-0.3},{"t":35.2,"p":-0.7},{"t":35.35,"p":-0.4},{"t":35.5,"p":-1},{"t":35.65,"p":-0.8},{"t":35.8,"p":-1.3},{"t":35.95,"p":-1},{"t":36.1,"p":-1.6},{"t":36.25,"p":-1.2},{"t":36.4,"p":-1.8},{"t":36.55,"p":-1.5},{"t":36.7,"p":-1.9},{"t":36.85,"p":-1.6},{"t":37,"p":-2.1},{"t":37.15,"p":-1.7},{"t":37.3,"p":-2.2},{"t":37.45,"p":-1.9},{"t":37.6,"p":-2.5},{"t":37.75,"p":-2.1},{"t":37.9,"p":-2.7},{"t":38.05,"p":-2.3},{"t":38.2,"p":-2.9},{"t":38.35,"p":-2.5},{"t":38.5,"p":-3},{"t":38.65,"p":-2.7},{"t":38.8,"p":-3.3},{"t":38.95,"p":-2.6},{"t":39.1,"p":-2.8},{"t":39.25,"p":-2.2},{"t":39.4,"p":-2.5},{"t":39.55,"p":-1.9},{"t":39.7,"p":-2.3},{"t":39.85,"p":-1.8},{"t":40,"p":-2.2},{"t":40.15,"p":-1.7},{"t":40.3,"p":-2.1},{"t":40.45,"p":-1.5},{"t":40.6,"p":-2},{"t":40.75,"p":-1.8},{"t":40.9,"p":-2.3},{"t":41.05,"p":-1.9},{"t":41.2,"p":-2.4},{"t":41.35,"p":-2},{"t":41.5,"p":-2.5},{"t":41.65,"p":-2.1},{"t":41.8,"p":-2.6},{"t":41.95,"p":-2.2},{"t":42.1,"p":-2.7},{"t":42.25,"p":-2.4},{"t":42.4,"p":-2.9},{"t":42.55,"p":-2.5},{"t":42.7,"p":-3},{"t":42.85,"p":-2.6},{"t":43,"p":-3.1},{"t":43.15,"p":-2.8},{"t":43.3,"p":-3.2},{"t":43.45,"p":-2.9},{"t":43.6,"p":-3.3},{"t":43.75,"p":-3},{"t":43.9,"p":-3.5},{"t":44.05,"p":-3.2},{"t":44.2,"p":-3.6},{"t":44.35,"p":-3.3},{"t":44.5,"p":-3.8},{"t":44.65,"p":-3.5},{"t":44.8,"p":-4},{"t":44.95,"p":-3.7},{"t":45.1,"p":-4.3},{"t":45.25,"p":-4},{"t":45.4,"p":-4.5},{"t":45.55,"p":-4.2},{"t":45.7,"p":-4.8},{"t":45.85,"p":-4.4},{"t":46,"p":-5},{"t":46.15,"p":-4.6},{"t":46.3,"p":-5.2},{"t":46.45,"p":-4.7},{"t":46.6,"p":-5.1},{"t":46.75,"p":-4.4},{"t":46.9,"p":-4.8},{"t":47.05,"p":-4},{"t":47.2,"p":-4.5},{"t":47.35,"p":-3.8},{"t":47.5,"p":-4.4},{"t":47.65,"p":-3.5},{"t":47.8,"p":-3.8},{"t":47.95,"p":-3},{"t":48.1,"p":-3.2},{"t":48.25,"p":-2.6},{"t":48.4,"p":-2.9},{"t":48.55,"p":-2.3},{"t":48.7,"p":-2.7},{"t":48.85,"p":-2},{"t":49,"p":-2.3},{"t":49.15,"p":-1.8},{"t":49.3,"p":-2.2},{"t":49.45,"p":-1.6},{"t":49.6,"p":-2},{"t":49.75,"p":-1.5},{"t":49.9,"p":-1.9},{"t":50.05,"p":-1.4},{"t":50.2,"p":-1.8},{"t":50.35,"p":-1.3},{"t":50.5,"p":-1.9},{"t":50.65,"p":-1.3},{"t":50.8,"p":-1.7},{"t":50.95,"p":-1.1},{"t":51.1,"p":-1.5},{"t":51.25,"p":-1},{"t":51.4,"p":-1.6},{"t":51.55,"p":-1},{"t":51.7,"p":-1.4},{"t":51.85,"p":-0.8},{"t":52,"p":-1.3},{"t":52.15,"p":-0.7},{"t":52.3,"p":-1.2},{"t":52.45,"p":-0.6},{"t":52.6,"p":-1.1},{"t":52.75,"p":-0.5},{"t":52.9,"p":-1},{"t":53.05,"p":-0.6},{"t":53.2,"p":-1.2},{"t":53.35,"p":-0.7},{"t":53.5,"p":-1.5},{"t":53.65,"p":-0.9},{"t":53.8,"p":-1.7},{"t":53.95,"p":-1.1},{"t":54.1,"p":-1.8},{"t":54.25,"p":-1.2},{"t":54.4,"p":-1.9},{"t":54.55,"p":-1.3},{"t":54.7,"p":-1.8},{"t":54.85,"p":-1},{"t":55,"p":-1.6},{"t":55.15,"p":-0.8},{"t":55.3,"p":-1.3},{"t":55.45,"p":-0.5},{"t":55.6,"p":-1},{"t":55.75,"p":-0.2},{"t":55.9,"p":-0.7},{"t":56.05,"p":0.1},{"t":56.2,"p":-0.4},{"t":56.35,"p":0.4},{"t":56.5,"p":-0.1},{"t":56.65,"p":0.7},{"t":56.8,"p":0.2},{"t":56.95,"p":1},{"t":57.1,"p":0.4},{"t":57.25,"p":1.2},{"t":57.4,"p":0.6},{"t":57.55,"p":1.4},{"t":57.7,"p":0.8},{"t":57.85,"p":1.5},{"t":58,"p":0.9},{"t":58.15,"p":1.3},{"t":58.3,"p":0.5},{"t":58.45,"p":1.2},{"t":58.6,"p":0.7},{"t":58.75,"p":1.6},{"t":58.9,"p":1},{"t":59.05,"p":1.8},{"t":59.2,"p":1.1},{"t":59.35,"p":1.6},{"t":59.5,"p":0.9},{"t":59.65,"p":1.7},{"t":59.8,"p":1.1},{"t":59.95,"p":1.5},{"t":60.1,"p":0.8},{"t":60.25,"p":1.6},{"t":60.4,"p":1},{"t":60.55,"p":1.9},{"t":60.7,"p":1.3},{"t":60.85,"p":2.2},{"t":61,"p":1.4},{"t":61.15,"p":2.3},{"t":61.3,"p":1.5},{"t":61.45,"p":2.6},{"t":61.6,"p":1.8},{"t":61.7,"p":3.5},{"t":61.8,"p":2},{"t":61.95,"p":1.4},{"t":62.1,"p":1.8},{"t":62.25,"p":1},{"t":62.4,"p":1.5},{"t":62.55,"p":0.6},{"t":62.7,"p":1.2},{"t":62.85,"p":0.3},{"t":63,"p":0.9},{"t":63.15,"p":0.2},{"t":63.3,"p":0.8},{"t":63.45,"p":0},{"t":63.6,"p":0.6},{"t":63.75,"p":-0.2},{"t":63.9,"p":0.4},{"t":64.05,"p":-0.3},{"t":64.2,"p":0.1},{"t":64.35,"p":-3.5},{"t":64.45,"p":-7},{"t":64.55,"p":-7},{"t":64.65,"p":-2},{"t":64.75,"p":-7},{"t":64.85,"p":-0.8},{"t":65,"p":-0.5},{"t":65.15,"p":-0.9},{"t":65.3,"p":-0.2},{"t":65.45,"p":-0.5},{"t":65.6,"p":0.1},{"t":65.75,"p":-0.2},{"t":65.9,"p":0.4},{"t":66.05,"p":0.1},{"t":66.2,"p":0.8},{"t":66.35,"p":0.4},{"t":66.5,"p":1},{"t":66.65,"p":0.7},{"t":66.8,"p":1.3},{"t":66.95,"p":0.9},{"t":67.1,"p":1.4},{"t":67.25,"p":1},{"t":67.4,"p":1.5},{"t":67.55,"p":1.1},{"t":67.7,"p":1.6},{"t":67.85,"p":1.2},{"t":68,"p":1.7},{"t":68.15,"p":1.3},{"t":68.3,"p":1.8},{"t":68.45,"p":1.4},{"t":68.6,"p":1.9},{"t":68.75,"p":1.5},{"t":68.9,"p":2},{"t":69.05,"p":1.6},{"t":69.2,"p":2},{"t":69.35,"p":1.6},{"t":69.5,"p":2.1},{"t":69.65,"p":1.7},{"t":69.8,"p":2.2},{"t":69.95,"p":1.6},{"t":70.1,"p":1.9},{"t":70.25,"p":1.2},{"t":70.4,"p":1.4},{"t":70.55,"p":0.6},{"t":70.7,"p":0.8},{"t":70.85,"p":0.1},{"t":71,"p":0.3},{"t":71.15,"p":-0.3},{"t":71.3,"p":0},{"t":71.45,"p":-0.6},{"t":71.6,"p":-0.3},{"t":71.75,"p":-1},{"t":71.9,"p":-0.8},{"t":72.05,"p":-1.5},{"t":72.2,"p":-1.3},{"t":72.35,"p":-2},{"t":72.5,"p":-1.7},{"t":72.65,"p":-2.1},{"t":72.8,"p":-1.8},{"t":72.95,"p":-2.2},{"t":73.1,"p":-1.9},{"t":73.25,"p":-2.1},{"t":73.4,"p":-1.7},{"t":73.55,"p":-2},{"t":73.7,"p":-1.6},{"t":73.85,"p":-2.2},{"t":74,"p":-1.8},{"t":74.15,"p":-2.1},{"t":74.3,"p":-1.5},{"t":74.45,"p":-1.9},{"t":74.6,"p":-1.6},{"t":74.75,"p":-2.3},{"t":74.9,"p":-2},{"t":75.05,"p":-2.4},{"t":75.2,"p":-2.1},{"t":75.35,"p":-2.5},{"t":75.5,"p":-2.2},{"t":75.65,"p":-2.4},{"t":75.8,"p":-2},{"t":75.95,"p":-2.3},{"t":76.1,"p":-1.9},{"t":76.25,"p":-2.2},{"t":76.4,"p":-1.8},{"t":76.55,"p":-2},{"t":76.7,"p":-1.7},{"t":76.85,"p":-1.9},{"t":77,"p":-1.5},{"t":77.15,"p":-1.7},{"t":77.3,"p":-0.8},{"t":77.45,"p":-0.5},{"t":77.6,"p":-0.3},{"t":77.75,"p":-0.4},{"t":77.9,"p":-0.1},{"t":78.05,"p":-0.3},{"t":78.2,"p":0},{"t":78.35,"p":-0.2},{"t":78.5,"p":0.1},{"t":78.65,"p":-1.2},{"t":78.8,"p":-2},{"t":78.95,"p":-1.9},{"t":79.1,"p":-2.2},{"t":79.25,"p":-2},{"t":79.4,"p":-2.3},{"t":79.55,"p":-2.1},{"t":79.7,"p":-2.2},{"t":80,"p":-2},{"t":80.3,"p":-2.3},{"t":80.6,"p":-2.1},{"t":80.9,"p":-2.4},{"t":81.2,"p":-2.1},{"t":81.5,"p":-2.3},{"t":81.8,"p":-2},{"t":82.1,"p":-2.3},{"t":82.4,"p":-2.1},{"t":82.7,"p":-2.5},{"t":83,"p":-2.2},{"t":83.3,"p":-2.4},{"t":83.6,"p":-2.1},{"t":83.9,"p":-2.3},{"t":84.2,"p":-2.2},{"t":84.5,"p":-2.5},{"t":84.8,"p":-2.4},{"t":85.1,"p":-2.6},{"t":85.4,"p":-2.5},{"t":85.7,"p":-2.7},{"t":86,"p":-2.6},{"t":86.3,"p":-2.8},{"t":86.6,"p":-2.7},{"t":86.9,"p":-2.9},{"t":87.2,"p":-2.8},{"t":87.5,"p":-2.9},{"t":87.8,"p":-2.6},{"t":88,"p":-2.5},{"t":88.2,"p":-2.3},{"t":88.3,"p":-1.5},{"t":88.45,"p":-2},{"t":88.6,"p":-2.6},{"t":88.8,"p":-2.8},{"t":88.95,"p":-2.3},{"t":89.1,"p":-2},{"t":89.3,"p":-1.9},{"t":89.6,"p":-1.8},{"t":89.9,"p":-1.6},{"t":90.2,"p":-1.5},{"t":90.5,"p":-1.4},{"t":90.8,"p":-1.5},{"t":91.1,"p":-1.3},{"t":91.4,"p":-1.4},{"t":91.7,"p":-1.2},{"t":92,"p":-1.3},{"t":92.3,"p":-1.1},{"t":92.7,"p":-1.2},{"t":93,"p":-1},{"t":93.3,"p":-1.1},{"t":93.6,"p":-0.9},{"t":93.9,"p":-0.9},{"t":94.3,"p":-0.8},{"t":94.6,"p":-0.6},{"t":95,"p":-0.5},{"t":95.3,"p":-0.4},{"t":95.6,"p":-0.2},{"t":96,"p":0},{"t":96.4,"p":0.2},{"t":96.9,"p":0.35},{"t":97.4,"p":0.2},{"t":97.6,"p":-0.6},{"t":97.75,"p":-2.5},{"t":97.9,"p":-4},{"t":98.05,"p":-3.5},{"t":98.2,"p":-4.8},{"t":98.35,"p":-4.2},{"t":98.5,"p":-5.9},{"t":98.6,"p":-4.4},{"t":98.75,"p":-5.2},{"t":98.9,"p":-6.2},{"t":99,"p":-4.6},{"t":99.15,"p":-5.8},{"t":99.3,"p":-5},{"t":99.45,"p":-6.3},{"t":99.6,"p":-5.2},{"t":99.75,"p":-6.4},{"t":99.9,"p":-5.5},{"t":100,"p":-6.1}],
    "i1": [{"t":0,"i":0},{"t":19.3,"i":0},{"t":19.6,"i":2.6},{"t":20,"i":6.6},{"t":20.5,"i":11.2},{"t":21,"i":15.4},{"t":21.5,"i":18},{"t":22,"i":18.9},{"t":22.4,"i":19.4},{"t":23,"i":20.3},{"t":23.5,"i":21.2},{"t":24,"i":22.3},{"t":24.5,"i":23.2},{"t":25,"i":24},{"t":25.5,"i":24.8},{"t":26,"i":25.6},{"t":26.6,"i":26.4},{"t":27.3,"i":27.6},{"t":28.1,"i":29},{"t":28.9,"i":30.8},{"t":29.7,"i":32.6},{"t":30.5,"i":34.2},{"t":31.3,"i":35.8},{"t":32.1,"i":37.5},{"t":32.8,"i":38.9},{"t":33.4,"i":39.7},{"t":33.9,"i":40.2},{"t":34.4,"i":40.3},{"t":34.9,"i":40.2},{"t":35.7,"i":39.6},{"t":36.5,"i":38.7},{"t":37.2,"i":36.8},{"t":38,"i":34.7},{"t":38.8,"i":32.9},{"t":39.6,"i":31.1},{"t":40.4,"i":29.8},{"t":41.2,"i":28.5},{"t":42.2,"i":25.9},{"t":43.2,"i":23.3},{"t":44,"i":21.2},{"t":44.8,"i":19.1},{"t":45.6,"i":16.6},{"t":46.4,"i":13.9},{"t":46.9,"i":11.8},{"t":47.4,"i":9.8},{"t":48,"i":7.6},{"t":48.5,"i":5.6},{"t":49,"i":4},{"t":49.5,"i":2.6},{"t":50,"i":1.4},{"t":50.5,"i":0.2},{"t":51,"i":-1},{"t":51.5,"i":-1.9},{"t":52.1,"i":-3.2},{"t":52.8,"i":-4.3},{"t":53.5,"i":-5.3},{"t":54.2,"i":-5.9},{"t":55,"i":-6.6},{"t":55.8,"i":-7.2},{"t":56.8,"i":-7.8},{"t":57.8,"i":-8.1},{"t":58.9,"i":-8.2},{"t":59.9,"i":-7.6},{"t":61,"i":-6.4},{"t":62,"i":-5.6},{"t":63,"i":-5},{"t":64,"i":-4.5},{"t":64.6,"i":-4.3},{"t":65.2,"i":-4.5},{"t":66.2,"i":-4.5},{"t":66.7,"i":-4.2},{"t":67.5,"i":-3.3},{"t":68.2,"i":-2.5},{"t":69,"i":-1.2},{"t":69.7,"i":0},{"t":70.3,"i":1},{"t":70.8,"i":1.6},{"t":71.4,"i":2.2},{"t":72,"i":3},{"t":72.7,"i":4.2},{"t":73.4,"i":5.4},{"t":74,"i":6.2},{"t":74.7,"i":6.9},{"t":75.5,"i":7.5},{"t":76.6,"i":8.1},{"t":77.6,"i":8.7},{"t":78.7,"i":9.4},{"t":79.7,"i":9.8},{"t":80.5,"i":9.9},{"t":81.3,"i":9.8},{"t":82.2,"i":9.3},{"t":82.9,"i":8.8},{"t":83.6,"i":7.9},{"t":84.3,"i":7.4},{"t":84.9,"i":6.8},{"t":85.5,"i":6.1},{"t":86.3,"i":5.1},{"t":87,"i":4.2},{"t":88,"i":3.4},{"t":88.6,"i":2.5},{"t":89.4,"i":1.4},{"t":90.1,"i":0.6},{"t":90.7,"i":0.2},{"t":91.4,"i":0},{"t":92.2,"i":-0.2},{"t":92.8,"i":-0.4},{"t":93.3,"i":-0.9},{"t":94,"i":-1.6},{"t":94.6,"i":-2},{"t":95.3,"i":-2.3},{"t":95.8,"i":-2},{"t":96.4,"i":-1.3},{"t":97,"i":-0.9},{"t":97.6,"i":-1},{"t":98.3,"i":-1.2},{"t":99,"i":-1.4},{"t":100,"i":-1.6}],
    "i2": [{"t":0,"i":0},{"t":19.3,"i":0},{"t":19.6,"i":2.4},{"t":20,"i":6.3},{"t":20.5,"i":11},{"t":21,"i":15.2},{"t":21.5,"i":17.6},{"t":21.9,"i":18.6},{"t":22.5,"i":19.4},{"t":23.5,"i":21.2},{"t":24.2,"i":22.3},{"t":25,"i":23.3},{"t":26,"i":24.2},{"t":27.1,"i":25.1},{"t":28.1,"i":26.9},{"t":28.9,"i":28.2},{"t":29.7,"i":29.5},{"t":30.5,"i":30.8},{"t":31.3,"i":32.1},{"t":32,"i":33.4},{"t":32.8,"i":34.7},{"t":33.6,"i":35.9},{"t":34.4,"i":36.6},{"t":35.1,"i":36.6},{"t":35.8,"i":36.3},{"t":36.4,"i":35.6},{"t":37,"i":34.3},{"t":37.7,"i":32.5},{"t":38.4,"i":30.2},{"t":39.1,"i":28},{"t":39.8,"i":26},{"t":40.6,"i":24.3},{"t":41.6,"i":22},{"t":42.7,"i":19.6},{"t":43.5,"i":17.8},{"t":44.3,"i":15.8},{"t":45,"i":13.5},{"t":45.8,"i":10.8},{"t":46.4,"i":7.5},{"t":46.9,"i":4.8},{"t":47.4,"i":2.4},{"t":47.8,"i":0.4},{"t":48.3,"i":-1.5},{"t":49,"i":-4.2},{"t":49.6,"i":-6.5},{"t":50.3,"i":-8.5},{"t":51.1,"i":-10.2},{"t":52,"i":-12},{"t":53.1,"i":-13.6},{"t":54.2,"i":-15.3},{"t":55.2,"i":-16.7},{"t":56.3,"i":-17.6},{"t":57.3,"i":-17.9},{"t":58.5,"i":-17.7},{"t":59.9,"i":-16.9},{"t":61,"i":-15.9},{"t":62,"i":-15},{"t":63,"i":-14.4},{"t":63.4,"i":-15},{"t":63.9,"i":-18},{"t":64.4,"i":-21.5},{"t":64.9,"i":-24.5},{"t":65.5,"i":-26.2},{"t":66.1,"i":-26.6},{"t":66.8,"i":-26},{"t":67.7,"i":-25.2},{"t":68.6,"i":-24.2},{"t":69.5,"i":-23.3},{"t":70.3,"i":-22.6},{"t":71,"i":-22},{"t":71.6,"i":-21.8},{"t":72.4,"i":-21.9},{"t":73,"i":-22.3},{"t":73.6,"i":-22.5},{"t":74.3,"i":-23.3},{"t":75,"i":-24.1},{"t":75.5,"i":-24.8},{"t":76,"i":-26.5},{"t":76.6,"i":-28.3},{"t":77.1,"i":-29.8},{"t":77.5,"i":-31}],
    "i3": [{"t":0,"i":0},{"t":19.3,"i":0},{"t":19.6,"i":2.7},{"t":20,"i":6.8},{"t":20.5,"i":11.5},{"t":21,"i":15.8},{"t":21.5,"i":18.3},{"t":22,"i":18.8},{"t":22.4,"i":19.8},{"t":23,"i":21.8},{"t":23.5,"i":23.3},{"t":24,"i":24.6},{"t":24.5,"i":25.8},{"t":25,"i":26.8},{"t":25.5,"i":27.5},{"t":26.2,"i":28.1},{"t":27.1,"i":28.7},{"t":28.1,"i":30.4},{"t":28.9,"i":32},{"t":29.7,"i":33.7},{"t":30.5,"i":34.8},{"t":31.3,"i":35.9},{"t":32.1,"i":37.6},{"t":32.8,"i":38.9},{"t":33.6,"i":40},{"t":34.4,"i":40.6},{"t":35.2,"i":40.7},{"t":35.9,"i":40.3},{"t":36.5,"i":39.7},{"t":37.2,"i":38.4},{"t":38,"i":36.3},{"t":39,"i":33.5},{"t":40.1,"i":30.6},{"t":41.1,"i":27.9},{"t":42.2,"i":25.4},{"t":43,"i":23.3},{"t":43.8,"i":21.2},{"t":44.6,"i":18.4},{"t":45.3,"i":15.5},{"t":46.1,"i":12.2},{"t":46.9,"i":8.8},{"t":47.4,"i":6.5},{"t":47.9,"i":4.4},{"t":48.5,"i":1.5},{"t":49,"i":-1.4},{"t":49.5,"i":-3.7},{"t":50,"i":-5.8},{"t":50.5,"i":-7.6},{"t":51.3,"i":-9.6},{"t":52.1,"i":-11},{"t":53,"i":-12.3},{"t":53.7,"i":-13.3},{"t":54.5,"i":-14},{"t":55.5,"i":-14.8},{"t":56.5,"i":-15.3},{"t":57.5,"i":-15.6},{"t":58.3,"i":-15.7},{"t":59.2,"i":-15.5},{"t":60,"i":-15},{"t":61,"i":-14.1},{"t":62,"i":-13.1},{"t":63,"i":-12},{"t":63.5,"i":-11.8},{"t":63.9,"i":-12.4},{"t":64.4,"i":-13.6},{"t":65,"i":-15},{"t":65.6,"i":-16.3},{"t":66.2,"i":-16.9},{"t":67,"i":-17.5},{"t":67.7,"i":-17.1},{"t":68.4,"i":-16.3},{"t":69.2,"i":-15.2},{"t":70,"i":-13.5},{"t":70.7,"i":-12.6},{"t":71,"i":-16.5},{"t":71.5,"i":-17.2},{"t":72,"i":-18},{"t":72.7,"i":-19.5},{"t":72.9,"i":-23},{"t":73.5,"i":-24.3},{"t":74.2,"i":-26},{"t":75,"i":-28.5},{"t":75.6,"i":-30.2},{"t":76,"i":-31}],
    "i5": [{"t":0,"i":0},{"t":19.3,"i":0},{"t":19.6,"i":2.5},{"t":20,"i":6.5},{"t":20.5,"i":11.3},{"t":21,"i":15.6},{"t":21.5,"i":18.5},{"t":22,"i":20},{"t":22.4,"i":21.2},{"t":22.9,"i":22.8},{"t":23.5,"i":24.8},{"t":24,"i":26.2},{"t":24.5,"i":27.5},{"t":25,"i":28.5},{"t":25.5,"i":29.3},{"t":26.1,"i":30.1},{"t":26.8,"i":31},{"t":27.6,"i":32.1},{"t":28.4,"i":33.6},{"t":29.2,"i":35.2},{"t":30.2,"i":36.8},{"t":31.3,"i":38.9},{"t":32.3,"i":41},{"t":33.4,"i":42.5},{"t":34.4,"i":43.1},{"t":35.4,"i":43.2},{"t":36.2,"i":42.8},{"t":37,"i":41.8},{"t":37.5,"i":41},{"t":38.1,"i":39.6},{"t":38.6,"i":38.4},{"t":39.1,"i":36.8},{"t":39.6,"i":35.2},{"t":40.4,"i":33.8},{"t":41.2,"i":32.6},{"t":42,"i":30.8},{"t":42.7,"i":29},{"t":43.5,"i":26.7},{"t":44.3,"i":24.3},{"t":45.3,"i":20.7},{"t":45.9,"i":18.3},{"t":46.4,"i":16},{"t":46.9,"i":13.4},{"t":47.4,"i":10.8},{"t":48.2,"i":8.1},{"t":49,"i":5.6},{"t":49.8,"i":3.9},{"t":50.5,"i":2.5},{"t":51.1,"i":0.8},{"t":51.8,"i":-0.8},{"t":52.6,"i":-2.2},{"t":53.4,"i":-3.8},{"t":54.2,"i":-5.4},{"t":55,"i":-7},{"t":55.8,"i":-8.3},{"t":56.5,"i":-8.9},{"t":57.5,"i":-8.8},{"t":58.5,"i":-8.4},{"t":59.4,"i":-7.9},{"t":60.2,"i":-7},{"t":61,"i":-6.3},{"t":62,"i":-5.3},{"t":63.1,"i":-4.2},{"t":64.1,"i":-3.6},{"t":64.5,"i":-4.6},{"t":65,"i":-5.9},{"t":65.8,"i":-6.2},{"t":66.7,"i":-6},{"t":67.5,"i":-5.3},{"t":68.3,"i":-4.3},{"t":68.9,"i":-3.5},{"t":69.8,"i":-2.2},{"t":70.5,"i":-1.2},{"t":71,"i":-0.8},{"t":71.5,"i":-0.8},{"t":72.2,"i":-1.3},{"t":72.9,"i":-2.2},{"t":74,"i":-2.6},{"t":74.8,"i":-3.8},{"t":75.5,"i":-5.3},{"t":76.3,"i":-6.9},{"t":77.1,"i":-8.6},{"t":77.8,"i":-8.8},{"t":78.6,"i":-8.9},{"t":79.2,"i":-9.7},{"t":79.8,"i":-10.7},{"t":80.7,"i":-12.8},{"t":81.5,"i":-14.6},{"t":82.5,"i":-16.9},{"t":83.3,"i":-18.8},{"t":84.3,"i":-21.1},{"t":85.3,"i":-23.4},{"t":86.3,"i":-25.9},{"t":87.3,"i":-28.4},{"t":87.9,"i":-30},{"t":88.2,"i":-30.8}]
  },
  "layer": [
    {
      "encoding": {
        "x": {
          "field": "t", "type": "quantitative",
          "scale": {"domain": [0, 100], "nice": false},
          "axis": {
            "title": "Time, msec",
            "values": [0, 10, 20, 30, 40, 50, 60, 70, 80, 90, 100],
            "labelPadding": 10,
            "titlePadding": 6,
            "gridColor": {"condition": {"test": "datum.value == 0 || datum.value == 100", "value": "black"}, "value": "#c3c3c3"}
          }
        },
        "y": {
          "field": "p", "type": "quantitative",
          "scale": {"domain": [-6, 14], "nice": false},
          "axis": {
            "orient": "left",
            "title": "Pressure, psi",
            "values": [-6, -4, -2, 0, 2, 4, 6, 8, 10, 12, 14],
            "titlePadding": 12,
            "gridColor": {"condition": {"test": "datum.value == -6 || datum.value == 14", "value": "black"}, "value": "#c3c3c3"}
          }
        }
      },
      "layer": [
        {
          "data": {"name": "p1"},
          "mark": {"type": "line", "clip": true, "strokeWidth": 1.3},
          "encoding": {
            "color": {
              "datum": "Test 1", "type": "nominal",
              "scale": {"domain": ["Test 1", "Test 2", "Test 3", "Test 5"], "range": ["#ff2a2a", "#2b4fb0", "#1a9a5a", "#000000"]},
              "legend": {
                "orient": "none", "legendX": 463, "legendY": 11,
                "title": null,
                "symbolType": "M-1,0H4", "symbolSize": 576, "symbolStrokeWidth": 1.5,
                "labelFont": "Liberation Sans", "labelFontSize": 24, "labelFontWeight": "bold", "labelColor": "black",
                "labelOffset": 47, "labelLimit": 200,
                "rowPadding": 5, "padding": 16,
                "strokeColor": "black", "fillColor": "white",
                "encode": {"legend": {"update": {"strokeWidth": {"value": 3}}}}
              }
            }
          }
        },
        {"data": {"name": "p2"}, "mark": {"type": "line", "clip": true, "strokeWidth": 1.3}, "encoding": {"color": {"datum": "Test 2", "type": "nominal"}}},
        {"data": {"name": "p3"}, "mark": {"type": "line", "clip": true, "strokeWidth": 1.3}, "encoding": {"color": {"datum": "Test 3", "type": "nominal"}}},
        {"data": {"name": "p5"}, "mark": {"type": "line", "clip": true, "strokeWidth": 1.3}, "encoding": {"color": {"datum": "Test 5", "type": "nominal"}}}
      ]
    },
    {
      "encoding": {
        "x": {"field": "t", "type": "quantitative"},
        "y": {
          "field": "i", "type": "quantitative",
          "scale": {"domain": [-30, 70], "nice": false},
          "axis": {
            "orient": "right",
            "title": "Impulse, psi-msec",
            "values": [-30, -20, -10, 0, 10, 20, 30, 40, 50, 60, 70],
            "grid": false,
            "titleAngle": 270,
            "titleBaseline": "top",
            "titlePadding": 10
          }
        }
      },
      "layer": [
        {"data": {"name": "i1"}, "mark": {"type": "line", "clip": true, "strokeWidth": 1.3}, "encoding": {"color": {"datum": "Test 1", "type": "nominal"}}},
        {"data": {"name": "i2"}, "mark": {"type": "line", "clip": true, "strokeWidth": 1.3}, "encoding": {"color": {"datum": "Test 2", "type": "nominal"}}},
        {"data": {"name": "i3"}, "mark": {"type": "line", "clip": true, "strokeWidth": 1.3}, "encoding": {"color": {"datum": "Test 3", "type": "nominal"}}},
        {"data": {"name": "i5"}, "mark": {"type": "line", "clip": true, "strokeWidth": 1.3}, "encoding": {"color": {"datum": "Test 5", "type": "nominal"}}}
      ]
    }
  ],
  "resolve": {"scale": {"y": "independent"}}
}
